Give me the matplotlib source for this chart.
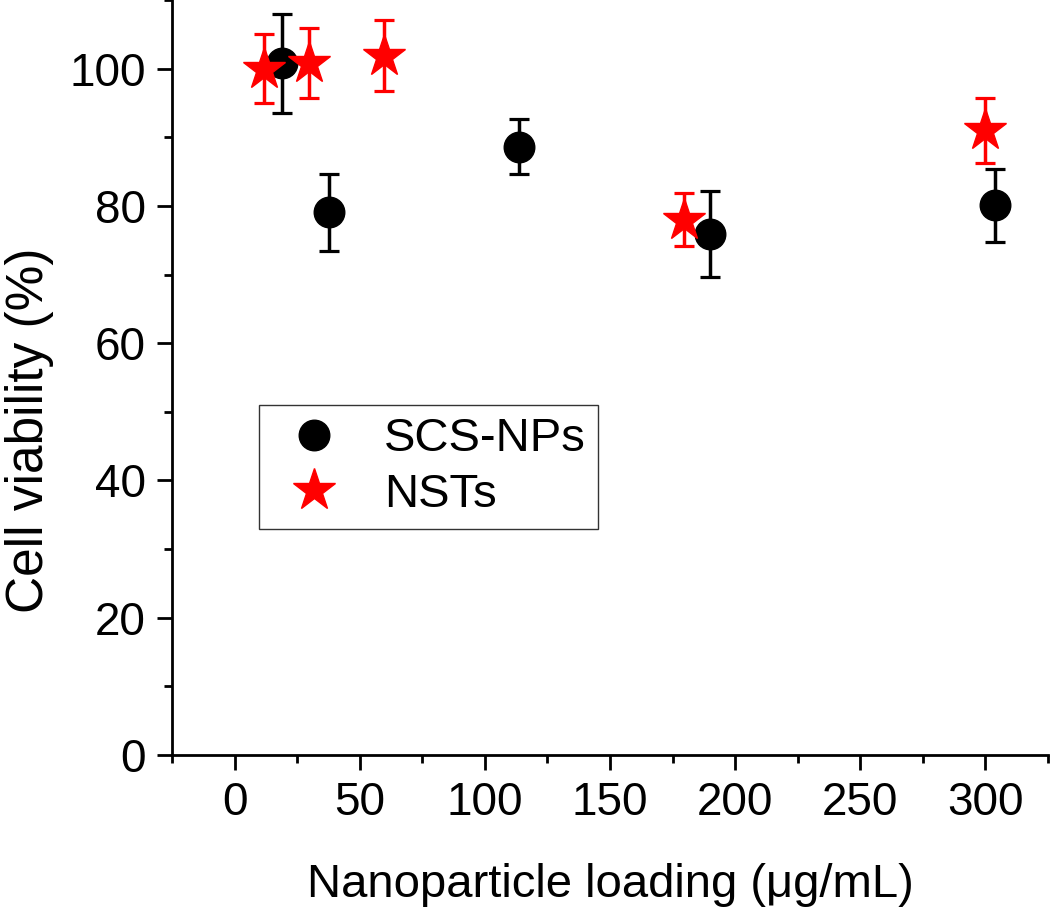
import matplotlib
matplotlib.use("Agg")
import matplotlib.pyplot as plt
from matplotlib.ticker import MultipleLocator

plt.rcParams['font.family'] = ['Liberation Sans', 'DejaVu Sans']

# SCS-NPs
scs_x = [18.8, 37.7, 113.6, 189.9, 304.0]
scs_y = [100.8, 79.1, 88.6, 75.9, 80.1]
scs_err = [7.2, 5.6, 4.0, 6.3, 5.3]

# NSTs
nst_x = [11.7, 29.6, 59.7, 179.6, 299.7]
nst_y = [100.0, 100.8, 101.9, 78.0, 91.0]
nst_err = [5.0, 5.1, 5.2, 3.9, 4.7]

x_ticks = [0, 50, 100, 150, 200, 250, 300]
y_ticks = [0, 20, 40, 60, 80, 100]

fig = plt.figure(figsize=(10.5, 9.08), dpi=100)
ax = fig.add_axes([0.1638, 0.1685, 0.8342, 0.8315])

ax.errorbar(scs_x, scs_y, yerr=scs_err, fmt='o', color='black', ms=22,
            elinewidth=2.5, capsize=7.5, capthick=2.3, label='SCS-NPs', zorder=3)
ax.errorbar(nst_x, nst_y, yerr=nst_err, fmt='*', color='red', ms=32,
            elinewidth=2.5, capsize=7, capthick=2.3, label='NSTs', zorder=4)

ax.set_xlim(-25, 325)
ax.set_ylim(0, 110)
ax.set_xticks(x_ticks)
ax.set_yticks(y_ticks)
ax.xaxis.set_minor_locator(MultipleLocator(25))
ax.yaxis.set_minor_locator(MultipleLocator(10))
for s in ['top', 'right']:
    ax.spines[s].set_visible(False)
for s in ['left', 'bottom']:
    ax.spines[s].set_linewidth(2.0)
ax.tick_params(which='major', length=11, width=2.0, labelsize=33, pad=8)
ax.tick_params(which='minor', length=6, width=2.0)

ax.set_xlabel('Nanoparticle loading (\u03bcg/mL)', fontsize=34, labelpad=27)
ax.set_ylabel('Cell viability (%)', fontsize=37)
ax.yaxis.set_label_coords(-0.135, 0.43)

handles, labels = ax.get_legend_handles_labels()
handles = [h[0] for h in handles]
leg = ax.legend(handles, labels, loc='upper left', bbox_to_anchor=(0.099, 0.4636),
                fontsize=34, frameon=True, fancybox=False, edgecolor='black',
                handlelength=1.84, handletextpad=0.55, borderpad=0.26, labelspacing=0.24,
                borderaxespad=0)
leg.get_frame().set_linewidth(1.0)

fig.savefig('out.png', dpi=100)
